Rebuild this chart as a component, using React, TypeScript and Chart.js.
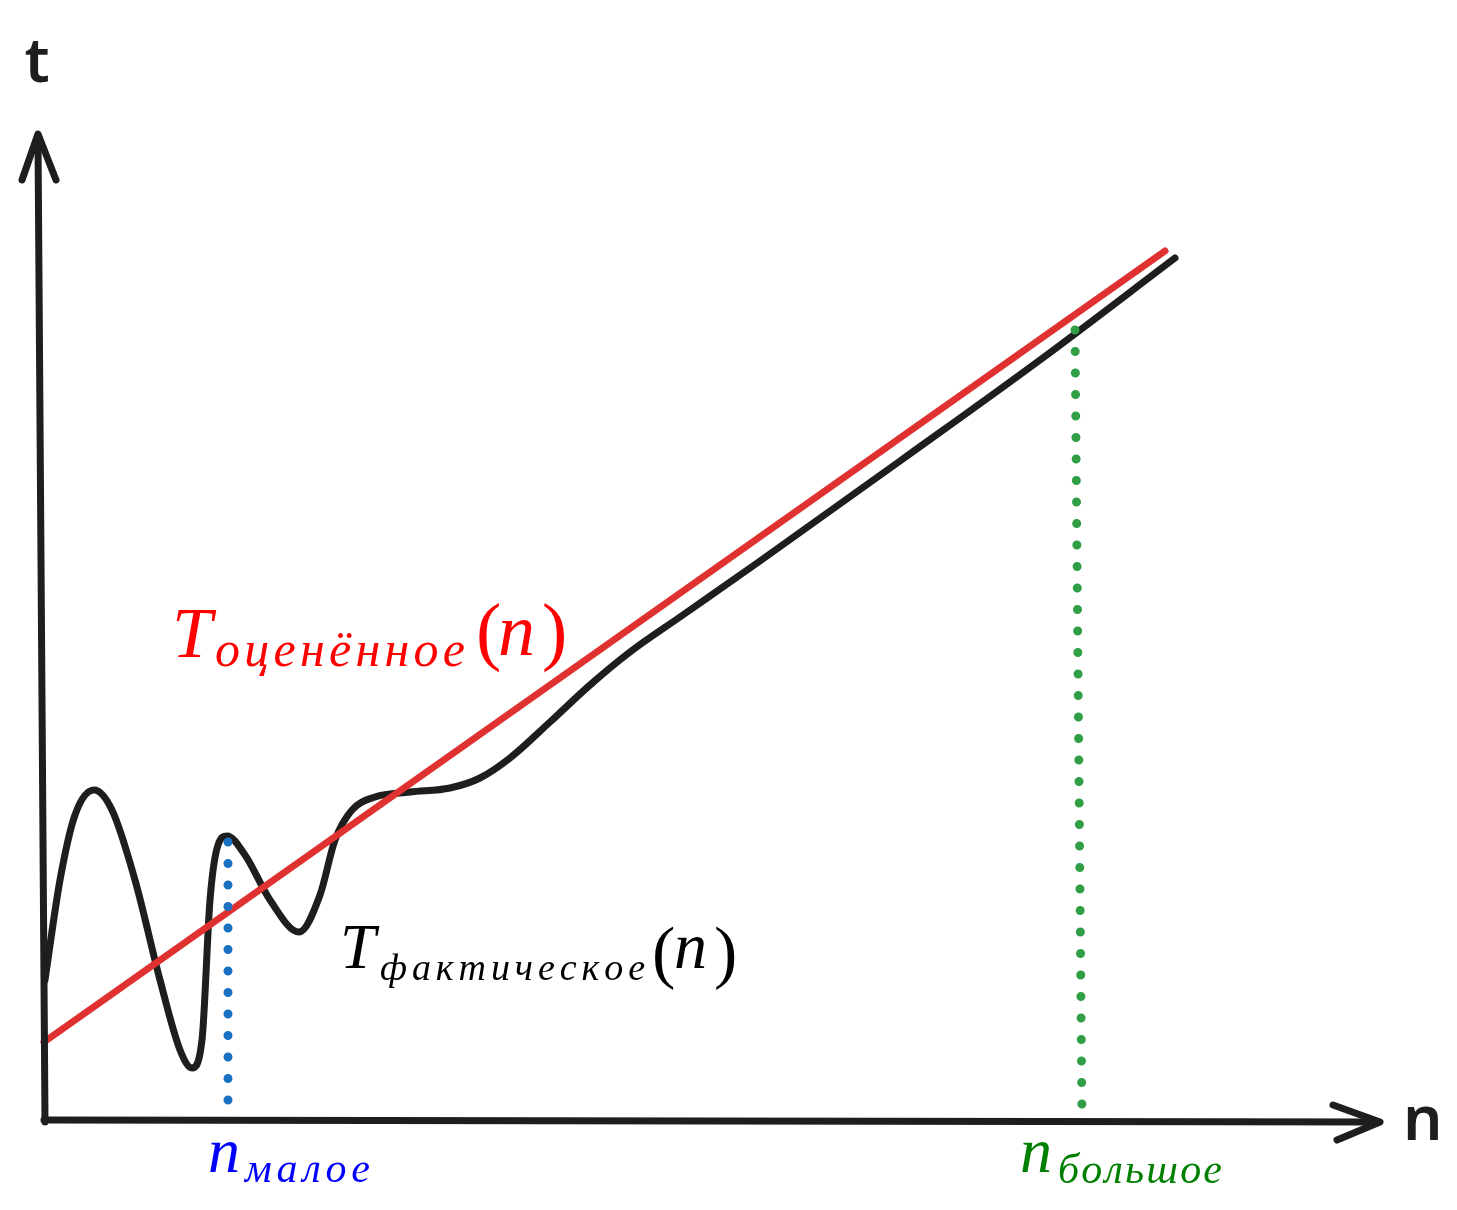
import React, { useEffect, useRef } from "react";
import { Chart, registerables } from "chart.js";

Chart.register(...registerables);

const W = 1457;
const H = 1210;

// Axes (hand-drawn, slightly slanted)
const yAxisN = [0.1, -0.6];
const yAxisT = [-0.2, 98.0];
const yArrowN = [-2.2, -0.6, 1.2];
const yArrowT = [94.0, 98.6, 94.0];
const xAxisN = [0.0, 133.4];
const xAxisT = [0.0, -0.2];
const xArrowN = [128.9, 133.6, 129.3];
const xArrowT = [1.5, -0.2, -2.0];

// Estimated complexity (red straight line)
const estimateN = [0.0, 112.1];
const estimateT = [7.8, 86.9];

// Actual running time (black wavy curve)
const actualN = [0.1, 1.6, 3.1, 5.0, 6.8, 9.1, 11.6, 13.6, 14.8, 15.8, 16.6, 17.4, 18.3, 20.1, 22.6, 25.5, 27.6, 29.1, 30.8, 33.1, 36.6, 40.6, 43.6, 46.6, 50.6, 54.6, 58.6, 63.6, 71.6, 85.6, 99.6, 113.1];
const actualT = [14.0, 24.0, 30.5, 33.0, 31.0, 24.0, 14.0, 7.0, 5.2, 8.0, 22.0, 27.5, 28.4, 26.5, 22.0, 18.8, 22.5, 28.0, 31.0, 32.3, 32.8, 33.2, 34.2, 36.2, 39.8, 43.5, 46.8, 50.3, 55.9, 65.9, 76.0, 86.2];

// Dotted markers
const smallN = [18.4, 18.4];
const smallT = [27.8, 1.2];
const largeN = [103.1, 103.8];
const largeT = [79.0, 0.2];

const zip = (xs: number[], ys: number[]) => xs.map((x, i) => ({ x, y: ys[i] }));

const SERIF = '"Liberation Serif", "DejaVu Serif", serif';

function spread(ctx: CanvasRenderingContext2D, text: string, x0: number, x1: number, y: number) {
  const chars = Array.from(text);
  const widths = chars.map((c) => ctx.measureText(c).width);
  const total = widths.reduce((a, b) => a + b, 0);
  const gap = chars.length > 1 ? (x1 - x0 - total) / (chars.length - 1) : 0;
  let x = x0;
  chars.forEach((c, i) => {
    ctx.fillText(c, x, y);
    x += widths[i] + gap;
  });
}

const labelPlugin = {
  id: "labels",
  afterDatasetsDraw(chart: any) {
    const ctx: CanvasRenderingContext2D = chart.ctx;
    const xs = chart.scales.x;
    const ys = chart.scales.y;
    const P = (n: number, t: number) => [xs.getPixelForValue(n), ys.getPixelForValue(t)];
    ctx.save();
    ctx.textBaseline = "alphabetic";
    ctx.textAlign = "left";

    // Axis names
    ctx.fillStyle = "#1e1e1e";
    ctx.font = '600 62px "Noto Sans", sans-serif';
    {
      const [x, y] = P(-0.7, 103.8);
      ctx.textAlign = "center";
      ctx.fillText("t", x, y);
      ctx.textAlign = "left";
    }
    {
      const [x, y] = P(135.9, -2.0);
      ctx.fillText("n", x, y);
    }

    // Red label: T_оценённое(n)
    {
      const [x, y] = P(12.8, 46.3);
      ctx.fillStyle = "#ff0000";
      ctx.font = `italic 72px ${SERIF}`;
      ctx.fillText("T", x, y);
      ctx.font = `italic 50px ${SERIF}`;
      spread(ctx, "оценённое", x + 43, x + 293, y + 9);
      ctx.font = `76px ${SERIF}`;
      ctx.fillText("(", x + 304, y - 1);
      ctx.font = `italic 74px ${SERIF}`;
      ctx.fillText("n", x + 326, y - 2);
      ctx.font = `76px ${SERIF}`;
      ctx.fillText(")", x + 370, y - 1);
    }

    // Black label: T_фактическое(n)
    {
      const [x, y] = P(29.6, 15.2);
      ctx.fillStyle = "#000000";
      ctx.font = `italic 64px ${SERIF}`;
      ctx.fillText("T", x, y);
      ctx.font = `italic 38px ${SERIF}`;
      spread(ctx, "фактическое", x + 40, x + 305, y + 12);
      ctx.font = `70px ${SERIF}`;
      ctx.fillText("(", x + 312, y + 7);
      ctx.font = `italic 66px ${SERIF}`;
      ctx.fillText("n", x + 334, y);
      ctx.font = `70px ${SERIF}`;
      ctx.fillText(")", x + 374, y + 7);
    }

    // Blue label: n_малое
    {
      const [x, y] = P(16.4, -5.2);
      ctx.fillStyle = "#0000ff";
      ctx.font = `italic 64px ${SERIF}`;
      ctx.fillText("n", x, y);
      ctx.font = `italic 42px ${SERIF}`;
      spread(ctx, "малое", x + 37, x + 162, y + 10);
    }

    // Green label: n_большое
    {
      const [x, y] = P(97.6, -5.2);
      ctx.fillStyle = "#008000";
      ctx.font = `italic 64px ${SERIF}`;
      ctx.fillText("n", x, y);
      ctx.font = `italic 42px ${SERIF}`;
      spread(ctx, "большое", x + 38, x + 202, y + 11);
    }
    ctx.restore();
  },
};

export default function App() {
  const ref = useRef<HTMLCanvasElement | null>(null);
  useEffect(() => {
    if (!ref.current) return;
    const solid = (data: any[], color: string, width: number, extra: any = {}) => ({
      data,
      borderColor: color,
      borderWidth: width,
      pointRadius: 0,
      borderCapStyle: "round",
      borderJoinStyle: "round",
      fill: false,
      clip: false,
      tension: 0,
      ...extra,
    });
    const chart = new Chart(ref.current, {
      type: "line",
      data: {
        datasets: [
          solid(zip(smallN, smallT), "#1971c2", 9, { borderDash: [0, 21.5] }),
          solid(zip(largeN, largeT), "#2f9e44", 9, { borderDash: [0, 21.5] }),
          solid(zip(yAxisN, yAxisT), "#1e1e1e", 7),
          solid(zip(yArrowN, yArrowT), "#1e1e1e", 7),
          solid(zip(xAxisN, xAxisT), "#1e1e1e", 7),
          solid(zip(xArrowN, xArrowT), "#1e1e1e", 7),
          solid(zip(estimateN, estimateT), "#e03131", 7),
          solid(zip(actualN, actualT), "#1e1e1e", 7, { cubicInterpolationMode: "monotone" }),
        ] as any,
      },
      options: {
        animation: false,
        responsive: false,
        devicePixelRatio: 1,
        layout: { padding: { left: 4, right: 17, top: 0, bottom: 0 } },
        plugins: { legend: { display: false }, tooltip: { enabled: false } },
        scales: {
          x: { type: "linear", min: -4, max: 139.6, display: false },
          y: { type: "linear", min: -9, max: 112, display: false },
        },
      },
      plugins: [labelPlugin],
    });
    return () => chart.destroy();
  }, []);
  return (
    <div style={{ position: "absolute", left: 0, top: 0, width: W, height: H, background: "#fff" }}>
      <canvas ref={ref} width={W} height={H} style={{ display: "block" }} />
    </div>
  );
}
